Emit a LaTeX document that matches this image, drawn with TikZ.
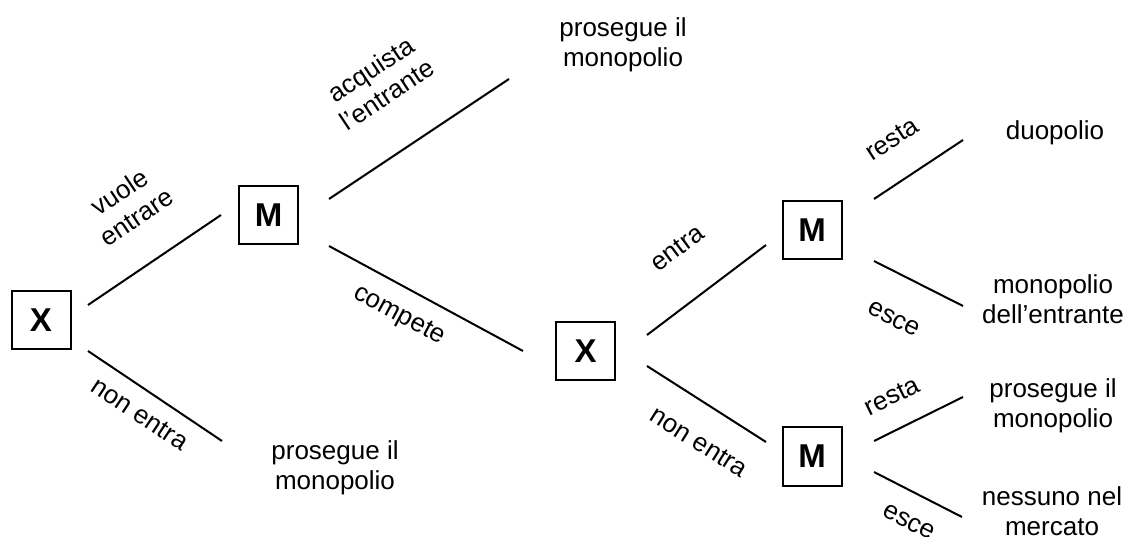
\documentclass[tikz,border=0pt]{standalone}
\usepackage{fontspec}
\setmainfont{Liberation Sans}
\tikzset{
  player/.style={draw, line width=2pt, minimum width=59pt, minimum height=58pt, inner sep=0pt, font=\fontsize{33}{36}\selectfont\bfseries},
  branch/.style={line width=2pt},
  leaf/.style={align=center, inner sep=0pt, font=\fontsize{26}{30}\selectfont},
  lbl/.style={align=center, inner sep=0pt, font=\fontsize{26}{30}\selectfont},
}
\begin{document}
\begin{tikzpicture}[x=1pt,y=-1pt]
\useasboundingbox (0,0) rectangle (1128,537);
% decision nodes
\node[player] (X1) at (41,320.5) {X};
\node[player] (M1) at (268.5,215) {M};
\node[player] (X2) at (585.5,351) {X};
\node[player] (M2) at (812,230) {M};
\node[player] (M3) at (812,456.5) {M};
% outcomes
\node[leaf] (o1) at (623,45) {prosegue il\\monopolio};
\node[leaf] (o2) at (335,468) {prosegue il\\monopolio};
\node[leaf] (o3) at (1055,133) {duopolio};
\node[leaf] (o4) at (1053,299) {monopolio\\dell’entrante};
\node[leaf] (o5) at (1053,406) {prosegue il\\monopolio};
\node[leaf] (o6) at (1052,511) {nessuno nel\\mercato};
% free ends of branches
\coordinate (e2) at (222,441);
\coordinate (e3) at (509,79);
\coordinate (e7) at (963,140);
\coordinate (e8) at (963,306);
\coordinate (e9) at (963,397);
\coordinate (e10) at (962,517);
% branches
\draw[branch] ([xshift=16.5pt,yshift=15.5pt]X1.east) -- ([xshift=-17pt]M1.west);
\draw[branch] ([xshift=16.5pt,yshift=-30.5pt]X1.east) -- (e2);
\draw[branch] ([xshift=30pt,yshift=16pt]M1.east) -- (e3);
\draw[branch] ([xshift=30pt,yshift=-31pt]M1.east) -- ([xshift=-32pt]X2.west);
\draw[branch] ([xshift=31pt,yshift=16pt]X2.east) -- ([xshift=-15.5pt,yshift=-15pt]M2.west);
\draw[branch] ([xshift=31pt,yshift=-15pt]X2.east) -- ([xshift=-15.5pt,yshift=14.5pt]M3.west);
\draw[branch] ([xshift=31.5pt,yshift=31pt]M2.east) -- (e7);
\draw[branch] ([xshift=31.5pt,yshift=-31pt]M2.east) -- (e8);
\draw[branch] ([xshift=31.5pt,yshift=15.5pt]M3.east) -- (e9);
\draw[branch] ([xshift=31.5pt,yshift=-15.5pt]M3.east) -- (e10);
% branch labels
\node[lbl, rotate=33.7] (l1) at (128,204) {vuole\\entrare};
\node[lbl, rotate=-33.7] (l2) at (140,414) {non entra};
\node[lbl, rotate=33.5] (l3) at (379,82) {acquista\\l’entrante};
\node[lbl, rotate=-28.2] (l4) at (399,316) {compete};
\node[lbl, rotate=36.6] (l5) at (677,248) {entra};
\node[lbl, rotate=-32.1] (l6) at (699,442) {non entra};
\node[lbl, rotate=33.2] (l7) at (892,139) {resta};
\node[lbl, rotate=-26.6] (l8) at (894,319) {esce};
\node[lbl, rotate=26.1] (l9) at (892,396) {resta};
\node[lbl, rotate=-26.6] (l10) at (909,522) {esce};
\end{tikzpicture}
\end{document}
